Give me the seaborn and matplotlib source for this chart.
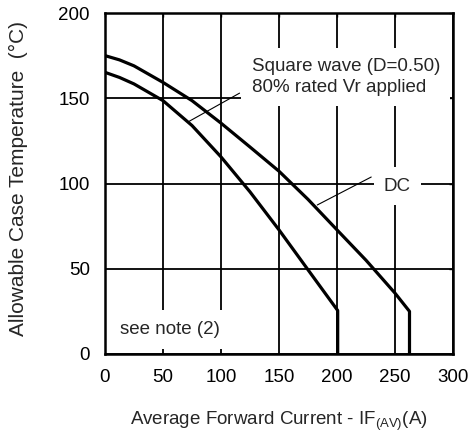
import seaborn as sns
import numpy as np
import pandas as pd
import matplotlib
matplotlib.use('Agg')
import matplotlib.pyplot as plt

# values
dc_current = [0, 12.5, 25, 50, 75, 100, 125, 150, 175, 200, 225, 250, 262.5, 262.5]
dc_temp = [175, 172.5, 169, 159.3, 148.6, 135.4, 121.4, 107.2, 90.7, 72.8, 55, 35.7, 25, 0]

sq_current = [0, 12.5, 25, 50, 75, 100, 125, 150, 175, 200.6, 200.6]
sq_temp = [165.2, 162.2, 158.4, 148.6, 134, 115.6, 95.1, 72.8, 49.4, 25.5, 0]

ticks = [0, 50, 100, 150, 200, 250, 300]
yticks = [0, 50, 100, 150, 200]

sns.set_style('white')
plt.rcParams['font.family'] = ['Liberation Sans', 'DejaVu Sans']
plt.rcParams['mathtext.default'] = 'regular'

df = pd.concat([
    pd.DataFrame({'I': dc_current, 'T': dc_temp, 'curve': 'DC'}),
    pd.DataFrame({'I': sq_current, 'T': sq_temp, 'curve': 'SQ'}),
])

fig = plt.figure(figsize=(4.75, 4.34), dpi=100)
ax = fig.add_axes([105 / 475, 1 - 354 / 434, 348 / 475, 341 / 434])

sns.lineplot(data=df, x='I', y='T', units='curve', estimator=None, sort=False,
             color='black', linewidth=2.3, ax=ax, zorder=4, legend=False)

ax.set_xlim(0, 300)
ax.set_ylim(0, 200)
ax.set_xticks(ticks)
ax.set_yticks(yticks)
ax.grid(True, color='black', linewidth=1.3)
ax.set_axisbelow(True)
for s in ax.spines.values():
    s.set_color('black')
    s.set_linewidth(1.8)
    s.set_zorder(5)
ax.tick_params(direction='in', length=3, width=1, labelsize=13.5, pad=11,
               top=True, right=True, colors='black')

box = dict(boxstyle='square,pad=0.55', facecolor='white', edgecolor='none')
ax.text(126.4, 162.5, 'Square wave (D=0.50)\n80% rated Vr applied', fontsize=13.5,
        ha='left', va='center', linespacing=1.25, bbox=box, zorder=3)
ax.text(252, 98.5, 'DC', fontsize=13.5, ha='center', va='center', bbox=box, zorder=3)
ax.text(13, 14.5, 'see note (2)', fontsize=13.5, ha='left', va='center',
        bbox=dict(boxstyle='square,pad=0.6', facecolor='white', edgecolor='none'), zorder=3)

# leader lines
ax.plot([71.3, 116], [136, 153], color='black', linewidth=0.8, zorder=4)
ax.plot([183, 229.5], [87.4, 103.8], color='black', linewidth=0.8, zorder=4)

ax.set_xlabel('Average Forward Current - IF$_{(AV)}$(A)', fontsize=13.5, labelpad=17)
ax.set_ylabel('Allowable Case Temperature  (°C)', fontsize=15)
ax.yaxis.set_label_coords(-0.222, 0.515)

fig.savefig('out.png', dpi=100)
